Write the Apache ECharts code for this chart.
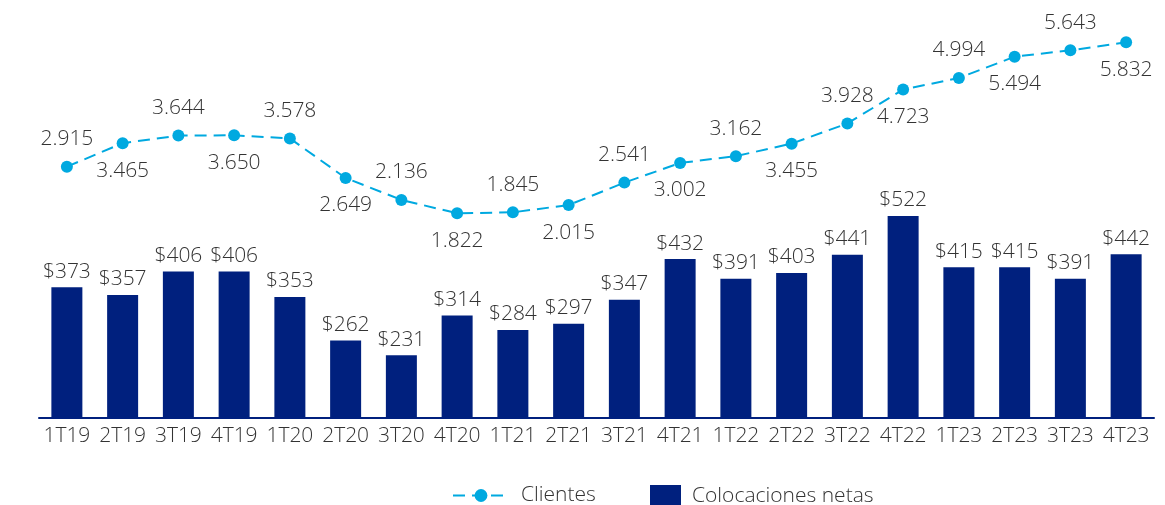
<!DOCTYPE html>
<html>
<head>
<meta charset="utf-8">
<script src="https://cdn.jsdelivr.net/npm/echarts@6/dist/echarts.min.js"></script>
<style>html,body{margin:0;padding:0;background:#fff}#c{width:1165px;height:505px}</style>
</head>
<body>
<div id="c"></div>
<script>
const categories = ['1T19','2T19','3T19','4T19','1T20','2T20','3T20','4T20','1T21','2T21','3T21','4T21','1T22','2T22','3T22','4T22','1T23','2T23','3T23','4T23'];
const colocaciones = [373,357,406,406,353,262,231,314,284,297,347,432,391,403,441,522,415,415,391,442];
const clientes = [2.915,3.465,3.644,3.650,3.578,2.649,2.136,1.822,1.845,2.015,2.541,3.002,3.162,3.455,3.928,4.723,4.994,5.494,5.643,5.832];
const labelPos = ['top','bottom','top','bottom','top','bottom','top','bottom','top','bottom','top','bottom','top','bottom','top','bottom','top','bottom','top','bottom'];

const FONT = '"Open Sans"';
const FW = 300;
const TXT = '#333333';
const NAVY = '#00207E';
const CYAN = '#00A9E0';

const chart = echarts.init(document.getElementById('c'));
chart.setOption({
  animation: false,
  grid: {left: 39, right: 11, top: 20, bottom: 87},
  legend: [
    {data: ['Clientes'], left: 452, top: 485, padding: 0, itemWidth: 56, itemHeight: 16, itemGap: 10,
     textStyle: {fontFamily: FONT, fontWeight: FW, fontSize: 21, color: TXT, padding: [0, 0, 0, 7]}},
    {data: [{name: 'Colocaciones netas', icon: 'rect'}], left: 650, top: 485, padding: 0, itemWidth: 31, itemHeight: 22, itemGap: 10,
     textStyle: {fontFamily: FONT, fontWeight: FW, fontSize: 21, color: TXT, padding: [0, 0, 0, 6]}}
  ],
  xAxis: {
    type: 'category', data: categories, boundaryGap: true,
    axisLine: {onZero: false, lineStyle: {color: NAVY, width: 2}},
    axisTick: {show: false},
    axisLabel: {fontFamily: FONT, fontWeight: FW, fontSize: 21, color: TXT, margin: 8, interval: 0}
  },
  yAxis: [
    {type: 'value', min: 100, max: 931.4, show: false, splitLine: {show: false}},
    {type: 'value', min: -2.978, max: 6.354, show: false, splitLine: {show: false}}
  ],
  series: [
    {
      name: 'Colocaciones netas', type: 'bar', yAxisIndex: 0, barWidth: 31,
      data: colocaciones,
      itemStyle: {color: NAVY},
      label: {show: true, position: 'top', distance: 5, fontFamily: FONT, fontWeight: FW, fontSize: 21, color: TXT,
               formatter: p => '$' + p.value}
    },
    {
      name: 'Clientes', type: 'line', yAxisIndex: 1,
      data: clientes.map((v, i) => ({value: v, label: {position: labelPos[i]}})),
      symbol: 'circle', symbolSize: 12,
      itemStyle: {color: CYAN},
      lineStyle: {color: CYAN, width: 2, type: [12, 7]},
      label: {show: true, distance: 11, fontFamily: FONT, fontWeight: FW, fontSize: 21, color: TXT,
              formatter: p => p.value.toFixed(3)}
    }
  ]
});
</script>
</body>
</html>
